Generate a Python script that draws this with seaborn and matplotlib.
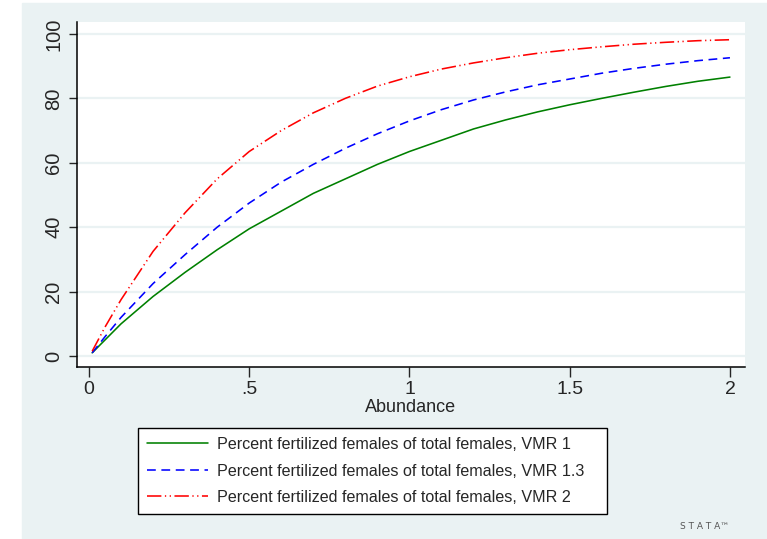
import pandas as pd
import matplotlib.pyplot as plt
import matplotlib.patches as mpatches
import seaborn as sns

# Abundance values and curve readings (percent fertilized females)
abundance = [0.01, 0.05, 0.1, 0.2, 0.3, 0.4, 0.5, 0.6, 0.7, 0.8, 0.9, 1.0,
             1.1, 1.2, 1.3, 1.4, 1.5, 1.6, 1.7, 1.8, 1.9, 2.0]
vmr_1 = [1.0, 5.0, 10.0, 18.5, 26.0, 33.0, 39.5, 45.0, 50.5, 55.0, 59.5, 63.5,
         67.0, 70.5, 73.3, 75.8, 78.0, 80.0, 81.9, 83.7, 85.3, 86.6]
vmr_13 = [1.0, 6.0, 12.0, 22.5, 31.5, 40.0, 47.5, 54.0, 59.5, 64.5, 69.0, 73.0,
          76.5, 79.5, 82.0, 84.2, 86.0, 87.8, 89.3, 90.6, 91.7, 92.6]
vmr_2 = [1.5, 9.0, 17.5, 32.5, 44.5, 55.0, 63.5, 70.0, 75.5, 80.0, 83.8, 86.7,
         89.1, 91.0, 92.6, 94.0, 95.1, 96.0, 96.8, 97.4, 97.9, 98.2]

labels = ["Percent fertilized females of total females, VMR 1",
          "Percent fertilized females of total females, VMR 1.3",
          "Percent fertilized females of total females, VMR 2"]
x_ticks = [0, 0.5, 1, 1.5, 2]
x_ticklabels = ["0", ".5", "1", "1.5", "2"]
y_ticks = [0, 20, 40, 60, 80, 100]

df = pd.concat([
    pd.DataFrame({"Abundance": abundance, "pct": vals, "series": lab})
    for vals, lab in zip([vmr_1, vmr_13, vmr_2], labels)
])

sns.set_style("ticks")
plt.rcParams['font.family'] = ['Liberation Sans', 'DejaVu Sans']

bg = "#EAF2F3"
fig = plt.figure(figsize=(7.67, 5.39), dpi=100, facecolor="white")
# stata outer region
fig.patches.append(mpatches.Rectangle((22 / 767, 0), 1, (539 - 3) / 539,
                                      transform=fig.transFigure, color=bg, zorder=-1))

ax = fig.add_axes([77 / 767, 172 / 539, 668 / 767, 345 / 539])
ax.set_facecolor("white")

palette = {labels[0]: "#008000", labels[1]: "#0000FF", labels[2]: "#FF0000"}
dashes = {labels[0]: "", labels[1]: (5.5, 3.5), labels[2]: (9, 2.2, 0.8, 2.2, 0.8, 2.2)}
sns.lineplot(data=df, x="Abundance", y="pct", hue="series", style="series",
             palette=palette, dashes=dashes, linewidth=1.15, ax=ax, legend=False)

ax.set_xlim(-0.0374, 2.047)
ax.set_ylim(-3.4, 103.7)
ax.set_xticks(x_ticks)
ax.set_xticklabels(x_ticklabels)
ax.set_yticks(y_ticks)
ax.tick_params(axis="y", labelrotation=90, labelsize=14.5, length=6, width=1, pad=4)
ax.tick_params(axis="x", labelsize=14, length=7, width=1, pad=3)
for lab in ax.get_yticklabels():
    lab.set_va("center")
ax.set_xlabel("Abundance", fontsize=13, labelpad=1)
ax.set_ylabel("")
ax.grid(axis="y", color=bg, linewidth=1.6)
ax.set_axisbelow(True)
for s in ["top", "right"]:
    ax.spines[s].set_visible(False)
for s in ["left", "bottom"]:
    ax.spines[s].set_color("black")
    ax.spines[s].set_linewidth(1.1)

handles = ax.get_lines()[:3]
leg = fig.legend(handles, labels, loc="center",
                 bbox_to_anchor=(138 / 767, 24 / 539, 469 / 767, 88 / 539),
                 mode="expand", fontsize=11.6, frameon=True, fancybox=False,
                 edgecolor="black", framealpha=1, handlelength=3.8,
                 handletextpad=0.55, labelspacing=0.72, borderpad=0.55,
                 borderaxespad=0)
leg.get_frame().set_linewidth(1.0)

fig.text(680 / 767, 10 / 539, "S T A T A\u2122", fontsize=6.5, color="#555555",
         family="DejaVu Sans")

fig.savefig("out.png", dpi=100, facecolor="white")
